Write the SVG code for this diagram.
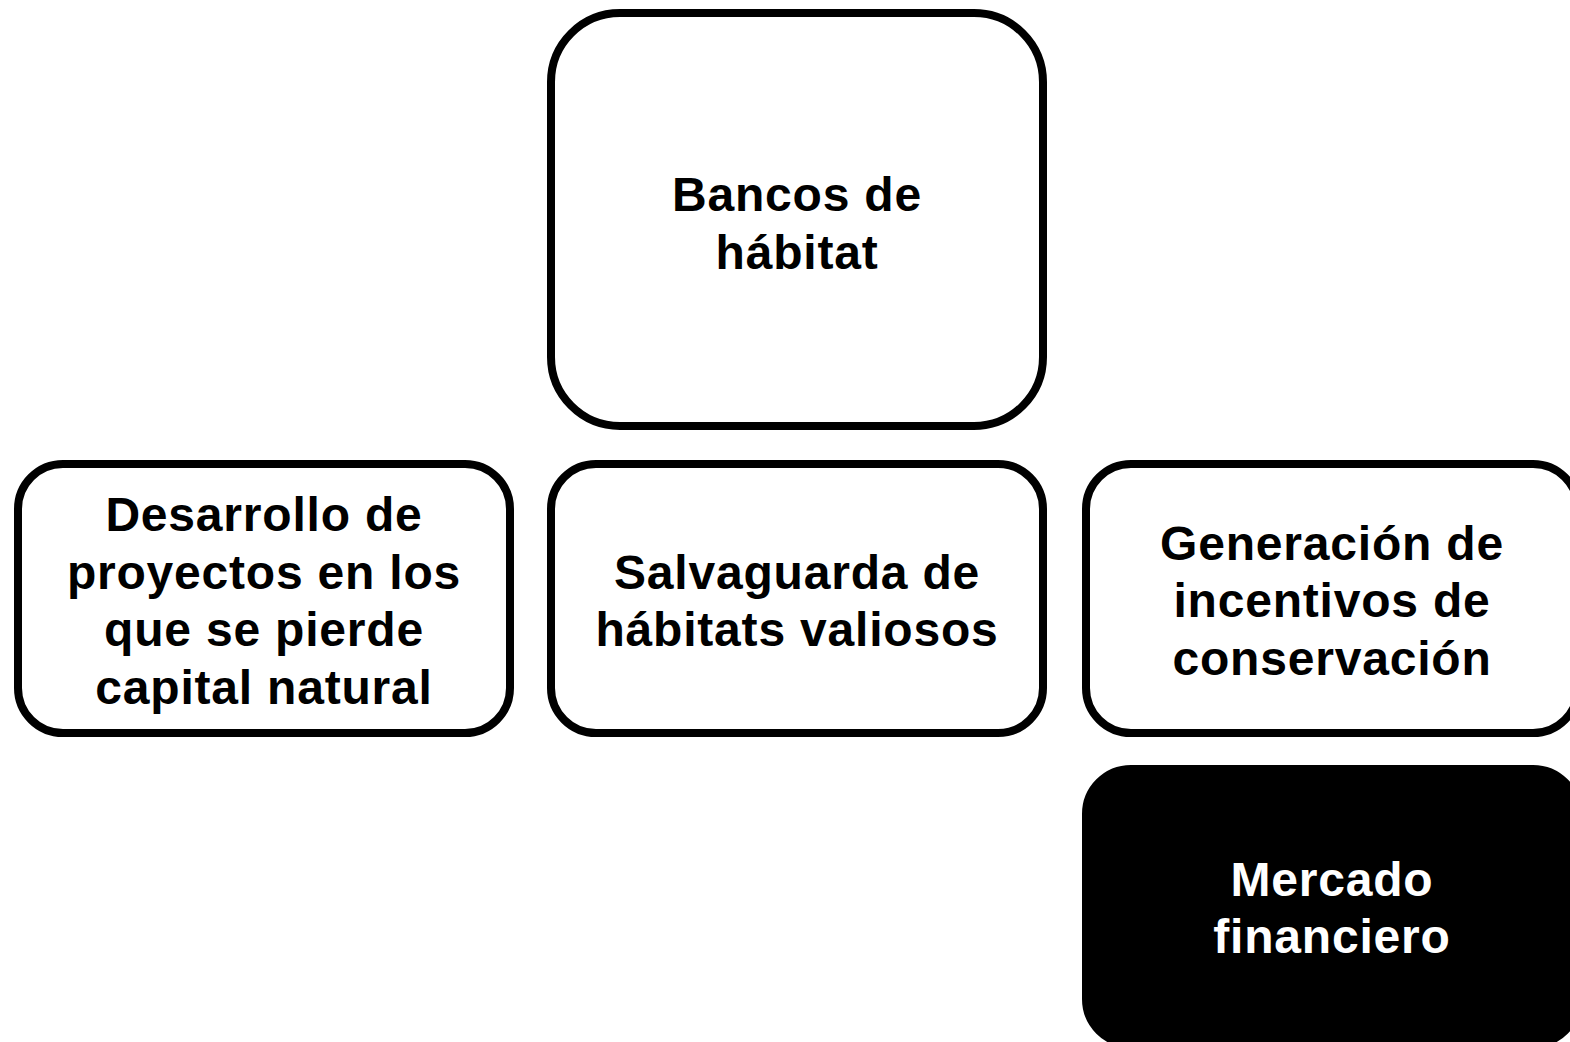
<svg xmlns="http://www.w3.org/2000/svg" width="1570" height="1042" viewBox="0 0 1570 1042">
<style>
.box{fill:#fff;stroke:#000;stroke-width:8}
.dark{fill:#000;stroke:#000;stroke-width:8}
.t{font-family:"Liberation Sans",Arial,sans-serif;font-weight:bold;font-size:48px;letter-spacing:0.8px;text-anchor:middle;fill:#000}
.tw{fill:#fff}
</style>
<rect width="1570" height="1042" fill="#fff"/>
<g id="connectors"></g>
<g id="bancos">
<rect class="box" x="551" y="13" width="492" height="413" rx="69" ry="69"/>
<text class="t" x="797" y="211">Bancos de</text>
<text class="t" x="797" y="269">hábitat</text>
</g>
<g id="desarrollo">
<rect class="box" x="18" y="464" width="492" height="269" rx="45" ry="45"/>
<text class="t" x="264" y="531">Desarrollo de</text>
<text class="t" x="264" y="589">proyectos en los</text>
<text class="t" x="264" y="646">que se pierde</text>
<text class="t" x="264" y="704">capital natural</text>
</g>
<g id="salvaguarda">
<rect class="box" x="551" y="464" width="492" height="269" rx="45" ry="45"/>
<text class="t" x="797" y="589">Salvaguarda de</text>
<text class="t" x="797" y="646">hábitats valiosos</text>
</g>
<g id="generacion">
<rect class="box" x="1086" y="464" width="492" height="269" rx="45" ry="45"/>
<text class="t" x="1332" y="560">Generación de</text>
<text class="t" x="1332" y="617">incentivos de</text>
<text class="t" x="1332" y="675">conservación</text>
</g>
<g id="mercado">
<rect class="dark" x="1086" y="769" width="492" height="275" rx="45" ry="45"/>
<text class="t tw" x="1332" y="896">Mercado</text>
<text class="t tw" x="1332" y="953">financiero</text>
</g>
</svg>
